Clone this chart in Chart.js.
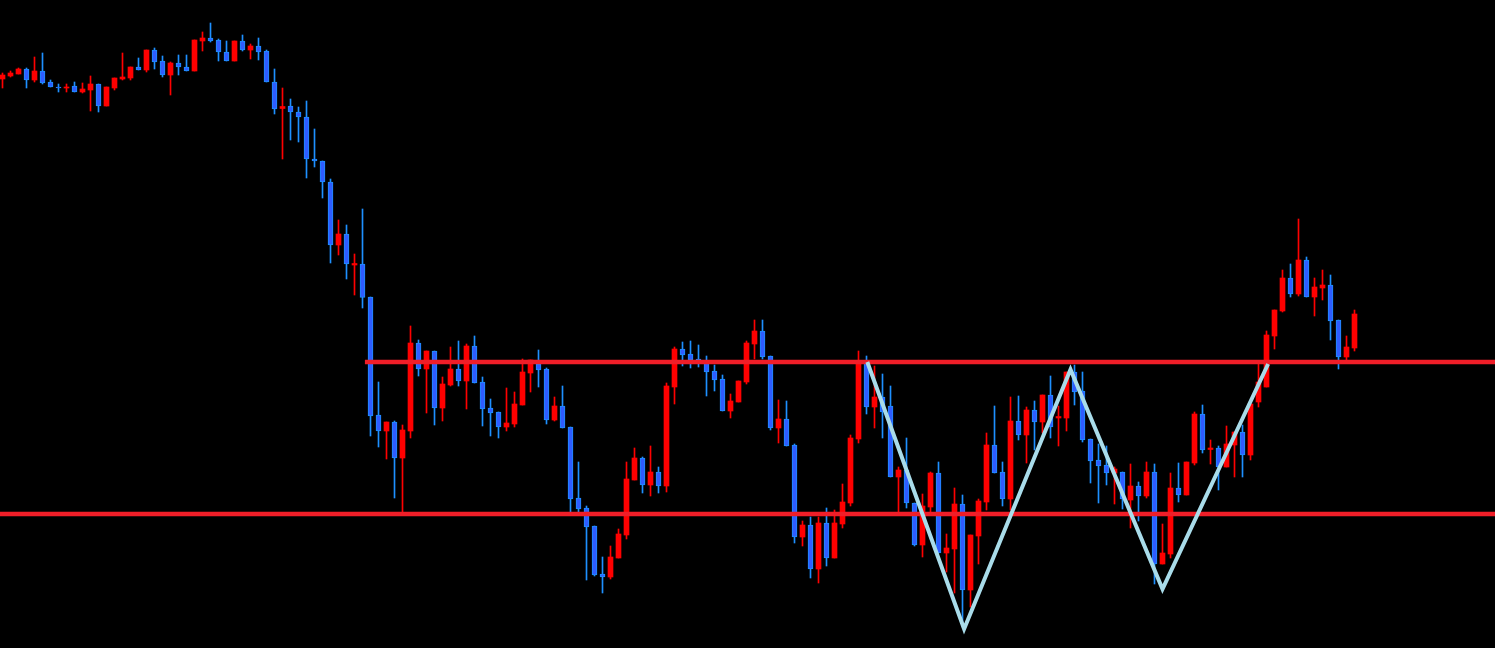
<!DOCTYPE html>
<html>
<head>
<meta charset="utf-8">
<script src="https://cdn.jsdelivr.net/npm/chart.js@4.4.1/dist/chart.umd.min.js"></script>
<style>
  html, body { margin: 0; padding: 0; background: #000; overflow: hidden; }
  canvas { display: block; }
</style>
</head>
<body>
<canvas id="candles" width="1495" height="648"></canvas>
<script>
// candle values, one entry per bar (index 0 = leftmost)
const openP = [569,572,574,579,568,577,566,561,560,562,556,558,564,542,560,569,570,581,578,598,
  587,573,585,581,577,607,610,608,596,587,607,598,602,597,566,539.5,542,536,531,489,
  487,466,403,414,383,384,351,233,217,226,190,217,305,279,297,240,263,279,267,302,
  266,240,236,221,224,243,275,284,279,228,242,221,150,140,122,74,71,90,113,168,
  190,163,176,162,261,299,294,289,286,277,269,237,246,266,304,317,292,220,229,203,
  111,123,79,125,90,124,145,209,286,241,251,242,171,178,145,103,141,175,95,99,
  144,58,112,146,203,176,149,227,213,238,226,253,230,230,276,257,209,188,183,175,
  176,148,162,152,176,84,94,160,153,185,234,198.5,200,181,203,216,193,246,261,312,
  337,370,354,388,351,360,363,328,291,300];
const highP = [575,577,580,580,591,595,568,564,564,566,565,572,564,561,570,595,581,590,598,600,
  592,586,593,593,608,616,625,609,607,607,613,604,610,598,579,560,549,541,547,519,
  487,469,428,423,394,439,351,266,226,227,223,322,308,297,297,271,301,307,304,312,
  271,249,236,260,256,289,288,298,280,251,262,221,186,142,122,91,102,119,186,200,
  191,202,181,265,301,306,307,303,292,283,273,254,267,307,328,328,292,248,247,204,
  127,131,131,140,138,164,213,297,292,282,274,262,181,210,145,154,176,186,114,160,
  153,113,149,215,242,186,251,252,241,247,253,272,242,276,283,276,209,204,202,181,
  176,184,166,186,184,124,175,185,186,236,243,208,202,222,216,223,244,284,317,338,
  378,384,429,391,370,378,373,328,312,338];
const lowP = [560,571,574,560,566,564,561,556,556,556,555,537,536,542,558,568,568,578,576,579,
  571,553,573,577,577,597,606,587,587,587,597,589,588,566,534,489,508,506,470,481,
  450,385,393,369,353,340,212,201,189,150,135,210,272,235,223,227,262,262,239,265,
  222,212,210,217,221,243,256,261,224,227,220,136,136,68,72,55,69,90,109,168,
  155,152,155,156,244,282,280,281,252,257,237,230,246,264,289,289,218,205,202,105,
  102,70,65,82,90,120,142,205,234,220,210,171,136,140,102,91,136,95,76,55,
  21,41,84,138,175,142,138,208,185,198,215,210,202,217,243,206,165,145,163,144,
  139,120,127,150,64,84,90,146,153,183,195,184,158,181,171,171,188,241,261,299,
  336,351,352,351,332,348,308,279,287,297];
const closeP = [573,575,579,568,577,565,561,560,561,556,559,564,542,561,570,571,581,578,598,586,
  573,585,581,577,608,610,607,596,587,607,598,602,596,566,539,541.5,536,531,489,487,
  466,403,414,384,384.5,350.5,232,217,226,190,218,305,279,297,240,264,279,267,302,265,
  239,235,221,225,244,276,288,278,228,242,220,149,139,121,73,71,91,114,169,190,
  163,176,162,262,299,293,288,286,276,268,237,247,267,305,317,291,220,229,202,111,
  123,79,125,90,125,146,210,286,241,251,236,171,178,145,103,142,175,95,100,144,
  58,113,147,203,175,149,227,213,238,226,253,221,231.5,276,256,208,187,182,175,179,
  149,162,152,176,84,95,160,153,186,234,198,200,181,204,216,193,244,266,313,338,
  370,354,388,351,361,363,327,291,301,334];

// drawn levels and pattern (x in bar index units)
const resistanceLevel = 286;
const resistanceStart = 45.3;
const supportLevel = 134;
const patternX = [108.1, 120.2, 133.5, 145, 158.2];
const patternY = [286, 19, 278.5, 59, 284];

const RED = '#ff0000';
const BLUE_FILL = '#2f5cff';
const BLUE_EDGE = '#1e90ff';
const LEVEL_RED = '#f01e28';
const PATTERN_BLUE = '#a9dcea';

const upWicks = [], downWicks = [], upBodies = [], downBodies = [];
openP.forEach((o, i) => {
  const c = closeP[i];
  const wick = { x: i, y: [lowP[i], highP[i]] };
  const body = { x: i, y: [Math.min(o, c), Math.max(o, c)] };
  if (c >= o) { upWicks.push(wick); upBodies.push(body); }
  else { downWicks.push(wick); downBodies.push(body); }
});

const xMin = -2.5 / 8;
const xMax = (1495 - 2.5) / 8;

const barBase = {
  type: 'bar',
  grouped: false,
  borderSkipped: false,
  minBarLength: 1
};

new Chart(document.getElementById('candles'), {
  type: 'bar',
  data: {
    datasets: [
      { ...barBase, data: upWicks, backgroundColor: RED, barThickness: 1, borderWidth: 0, order: 3 },
      { ...barBase, data: downWicks, backgroundColor: BLUE_EDGE, barThickness: 1, borderWidth: 0, order: 3 },
      { ...barBase, data: upBodies, backgroundColor: RED, barThickness: 5, borderWidth: 0, order: 2 },
      { ...barBase, data: downBodies, backgroundColor: BLUE_FILL, borderColor: BLUE_EDGE,
        barThickness: 5, borderWidth: 1, order: 2 },
      { type: 'line', data: [{ x: resistanceStart, y: resistanceLevel }, { x: xMax, y: resistanceLevel }],
        borderColor: LEVEL_RED, borderWidth: 4.5, pointRadius: 0, order: 1 },
      { type: 'line', data: [{ x: xMin, y: supportLevel }, { x: xMax, y: supportLevel }],
        borderColor: LEVEL_RED, borderWidth: 4.5, pointRadius: 0, order: 1 },
      { type: 'line', data: patternX.map((x, i) => ({ x: x, y: patternY[i] })),
        borderColor: PATTERN_BLUE, borderWidth: 4, pointRadius: 0, tension: 0, order: 0 }
    ]
  },
  options: {
    responsive: false,
    devicePixelRatio: 1,
    animation: false,
    layout: { padding: 0 },
    plugins: { legend: { display: false }, tooltip: { enabled: false } },
    scales: {
      x: { type: 'linear', min: xMin, max: xMax, offset: false, display: false },
      y: { min: 0, max: 648, display: false }
    }
  }
});
</script>
</body>
</html>
